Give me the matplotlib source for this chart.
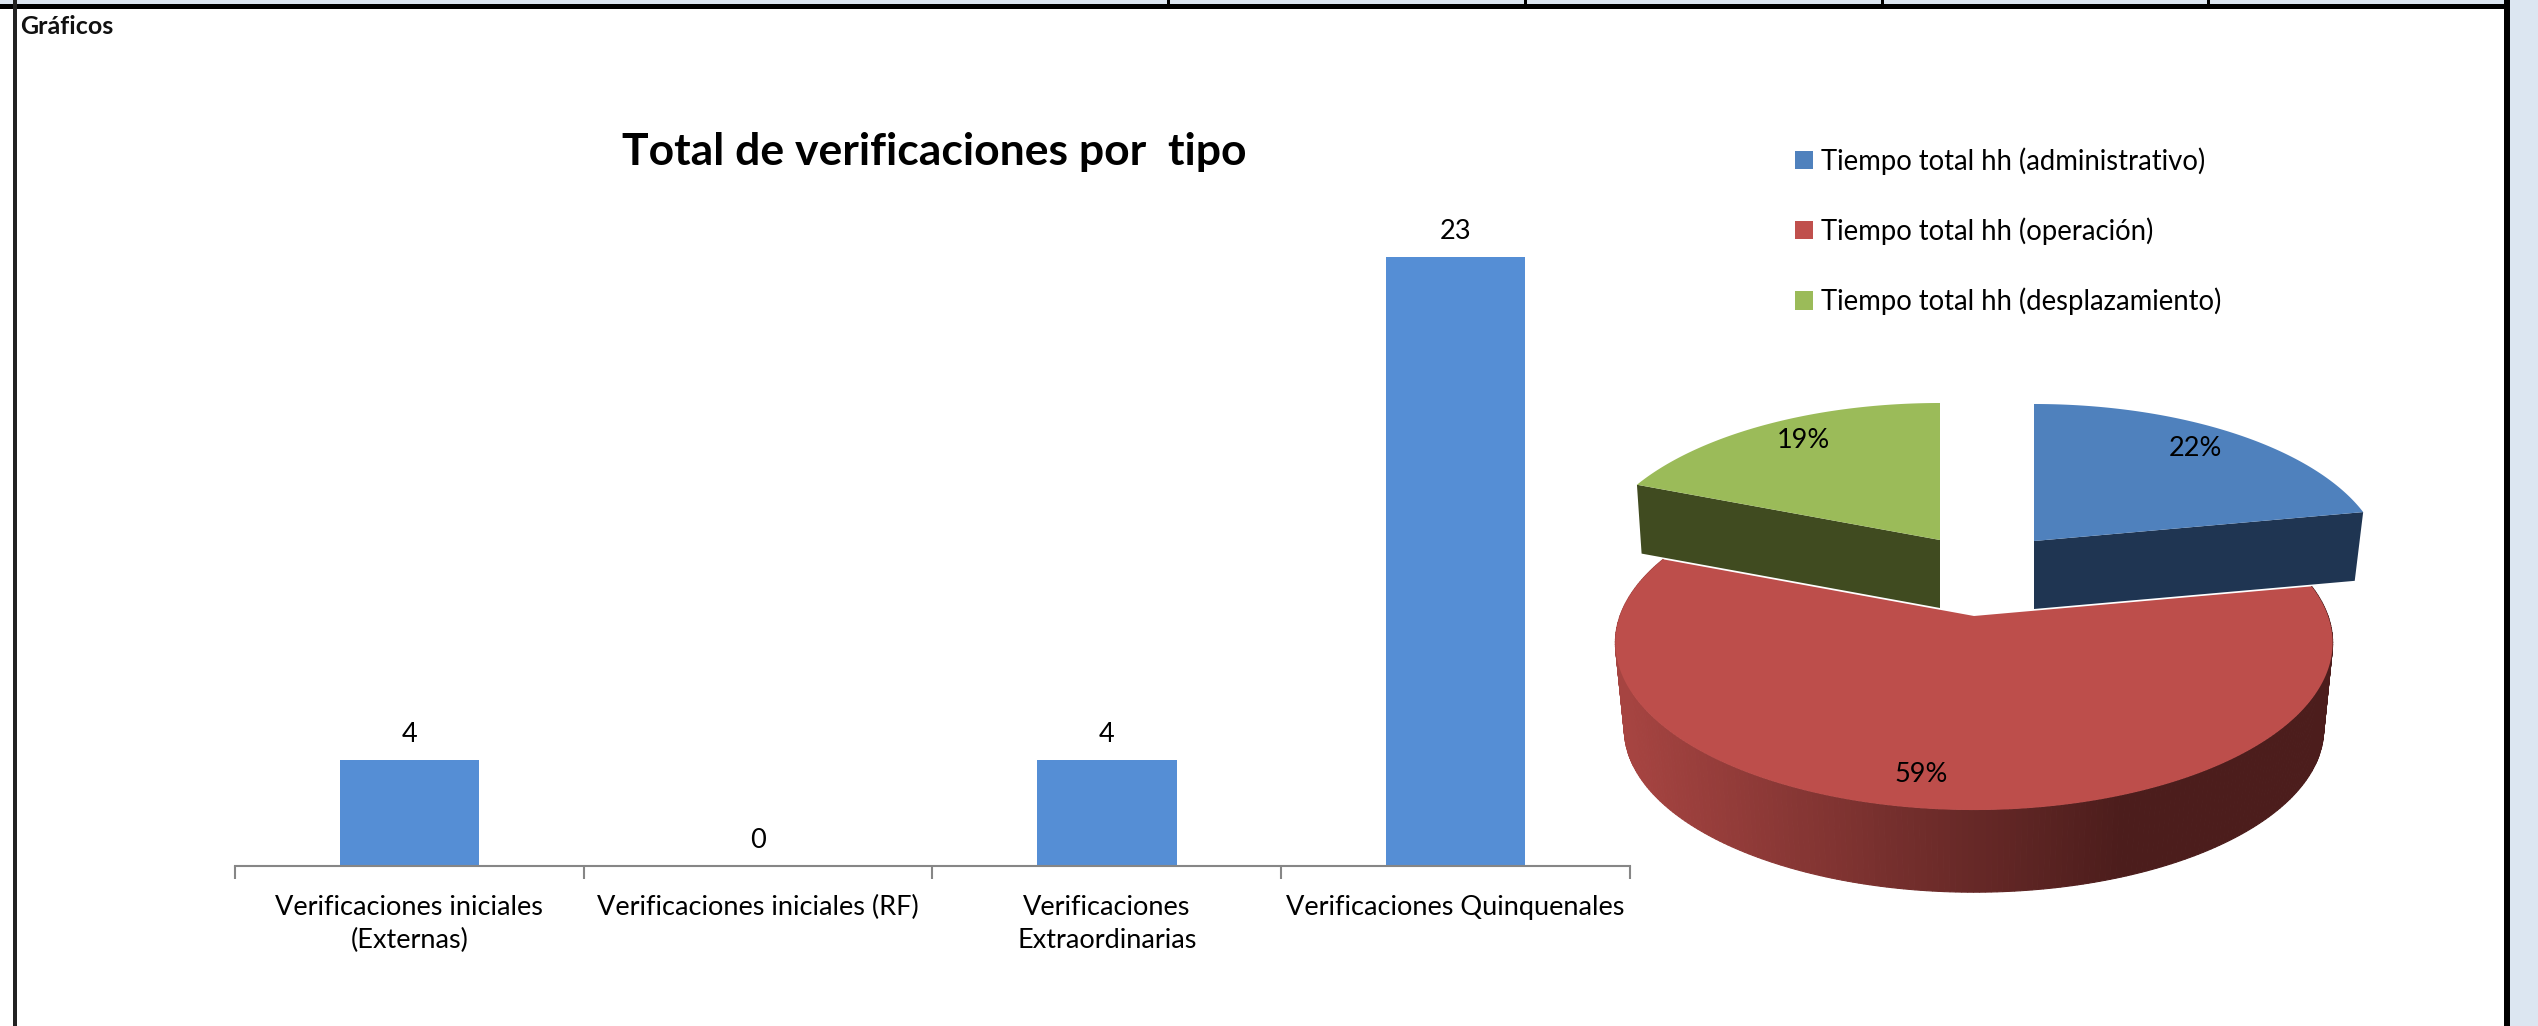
# -*- coding: utf-8 -*-
import numpy as np
import matplotlib
matplotlib.use('Agg')
import matplotlib.pyplot as plt
from matplotlib.patches import Polygon, Rectangle, Patch

# Datos
categorias = ['Verificaciones iniciales\n(Externas)', 'Verificaciones iniciales (RF)',
              'Verificaciones\nExtraordinarias', 'Verificaciones Quinquenales']
verificaciones = [4, 0, 4, 23]

tiempos = ['Tiempo total hh (administrativo)', 'Tiempo total hh (operación)',
           'Tiempo total hh (desplazamiento)']
porcentajes = [22, 59, 19]

W, H = 2538, 1026
plt.rcParams['font.family'] = ['Lato', 'DejaVu Sans']
fig = plt.figure(figsize=(W / 100, H / 100), dpi=100, facecolor='white')

# Capa de fondo en pixeles (marco de la hoja y pastel)
bg = fig.add_axes([0, 0, 1, 1])
bg.set_xlim(0, W)
bg.set_ylim(H, 0)
bg.axis('off')

azul_hoja = '#DCE6F1'
bg.add_patch(Rectangle((0, 0), W, 5, color=azul_hoja, lw=0))
bg.add_patch(Rectangle((2510, 0), W - 2510, H, color=azul_hoja, lw=0))
bg.add_patch(Rectangle((0, 4), 2510, 5, color='black', lw=0))
bg.add_patch(Rectangle((13, 0), 3.5, H, color='#222222', lw=0))
bg.add_patch(Rectangle((2504, 0), 6, H, color='black', lw=0))
for xt in [1168, 1525, 1882, 2208]:
    bg.add_patch(Rectangle((xt - 1.5, 0), 3, 5, color='black', lw=0))
bg.text(20, 26, 'Gráficos', fontsize=18, fontweight='bold', va='center', color='#111111')


# Proyeccion con perspectiva del disco del pastel
def punto(theta, cx, cy, esc=1.0, a=354, b=163, k=0.16):
    X, Y = np.sin(theta), np.cos(theta)
    d = 1 + k * Y
    return cx + esc * a * X / d, cy - esc * b * Y / d


def arco(t0, t1, cx, cy, esc=1.0):
    t = np.linspace(t0, t1, 200)
    x, y = punto(t, cx, cy, esc)
    return np.column_stack([x, y])


angulos = np.cumsum([0] + porcentajes) / 100 * 2 * np.pi
prof_r = 87
cr = (1974, 616)

# Costado rojo con degradado
izq = np.array([0xA6, 0x44, 0x41]) / 255
der = np.array([0x4C, 0x1D, 0x1C]) / 255
t_lado = np.linspace(angulos[1], angulos[2], 260)
for t0, t1 in zip(t_lado[:-1], t_lado[1:]):
    xa, ya = punto(t0, cr[0], cr[1])
    xb, yb = punto(t1, cr[0], cr[1])
    xc, yc = punto(t1, cr[0], cr[1] + prof_r, 0.975)
    xd, yd = punto(t0, cr[0], cr[1] + prof_r, 0.975)
    f = np.clip(((xa + xb) / 2 - 1625) / (2120 - 1625), 0, 1)
    col = izq * (1 - f) + der * f
    bg.add_patch(Polygon([(xa, ya), (xb, yb), (xc, yc), (xd, yd)], closed=True,
                         facecolor=col, edgecolor=col, lw=0.8))

# Cara superior roja
bg.add_patch(Polygon(np.vstack([[cr], arco(angulos[1], angulos[2], *cr)]), closed=True,
                     facecolor='#BD4E4B', edgecolor='none'))

# Rebanadas separadas: verde y azul
cv = (1940, 540)
ca = (2034, 541)
prof = 68

xe, ye = punto(angulos[2], cv[0], cv[1], 0.975)
xe2, ye2 = punto(angulos[2], cv[0], cv[1] + prof, 0.96)
bg.add_patch(Polygon([cv, (xe, ye), (xe2, ye2), (cv[0], cv[1] + prof)], closed=True,
                     facecolor='#404B20', edgecolor='none'))
bg.add_patch(Polygon(np.vstack([[cv], arco(angulos[2], angulos[3], cv[0], cv[1], 0.975)]),
                     closed=True, facecolor='#9BBB59', edgecolor='none'))

xe, ye = punto(angulos[1], ca[0], ca[1], 0.975)
xe2, ye2 = punto(angulos[1], ca[0], ca[1] + prof, 0.95)
bg.add_patch(Polygon([ca, (xe, ye), (xe2, ye2), (ca[0], ca[1] + prof)], closed=True,
                     facecolor='#1F3552', edgecolor='none'))
bg.add_patch(Polygon(np.vstack([[ca], arco(angulos[0], angulos[1], ca[0], ca[1], 0.975)]),
                     closed=True, facecolor='#4F81BD', edgecolor='none'))

# Etiquetas del pastel
for p, xy in zip(porcentajes, [(2195, 448), (1921, 775), (1803, 441)]):
    bg.text(xy[0], xy[1], f'{p}%', fontsize=19.5, ha='center', va='center', color='black')

# Grafico de barras
ax = fig.add_axes([235 / W, 1 - 866 / H, (1630 - 235) / W, (866 - 257) / H])
ax.patch.set_alpha(0)
pos = np.arange(len(categorias))
barras = ax.bar(pos, verificaciones, width=0.4, color='#558ED5')
ax.bar_label(barras, padding=9.5, fontsize=19.5, color='black')
ax.set_xlim(-0.5, 3.5)
ax.set_ylim(0, 23)
for lado in ['top', 'left', 'right']:
    ax.spines[lado].set_visible(False)
ax.spines['bottom'].set_color('#868686')
ax.spines['bottom'].set_linewidth(1.5)
ax.yaxis.set_visible(False)
ax.set_xticks(pos - 0.5)
ax.set_xticks([3.5], minor=True)
ax.set_xticklabels([])
ax.tick_params(axis='x', which='both', length=9, width=1.5, color='#868686')
for x, cat in zip(pos, categorias):
    ax.annotate(cat, (x, 0), xycoords=('data', 'axes fraction'), xytext=(0, -29),
                textcoords='offset pixels', ha='center', va='top', fontsize=19.5,
                linespacing=1.38, color='black')

fig.text(934 / W, 1 - 152 / H, 'Total de verificaciones por  tipo', fontsize=32,
         fontweight='bold', ha='center', va='center', color='black')

# Leyenda
colores = ['#4F81BD', '#C0504D', '#9BBB59']
fig.legend([Patch(facecolor=c) for c in colores], tiempos, loc='upper left',
           bbox_to_anchor=(1795 / W, 1 - 147 / H), frameon=False, fontsize=19.8,
           handlelength=0.65, handleheight=0.65, handletextpad=0.28,
           labelspacing=1.55, borderpad=0, borderaxespad=0)

fig.savefig('out.png', dpi=100)
